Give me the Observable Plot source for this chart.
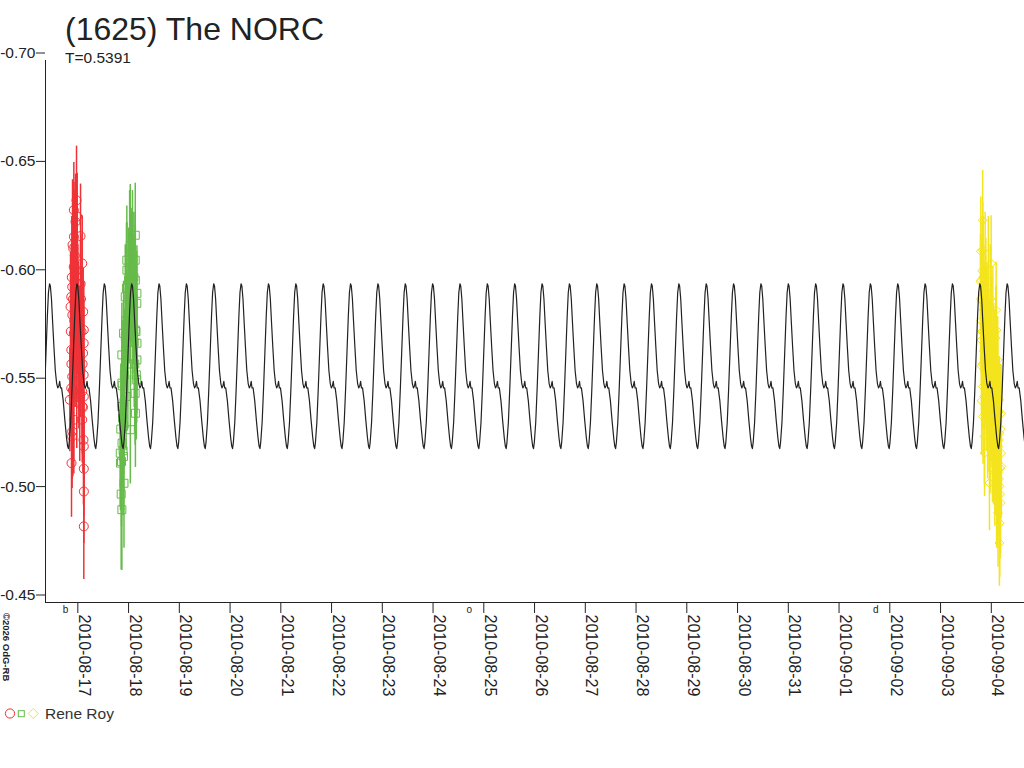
<!DOCTYPE html>
<html>
<head>
<meta charset="utf-8">
<script src="https://cdn.jsdelivr.net/npm/d3@7"></script>
<script src="https://cdn.jsdelivr.net/npm/@observablehq/plot@0.6"></script>
<style>
  body { margin: 0; background: #fff; }
  #wrap { position: relative; width: 1024px; height: 768px; overflow: hidden; background: #fff; font-family: "Liberation Sans", Arial, sans-serif; }
  #chart { position: absolute; left: 0; top: 0; }
  #overlay { position: absolute; left: 0; top: 0; pointer-events: none; }
</style>
</head>
<body>
<div id="wrap">
  <div id="chart"></div>
  <svg id="overlay" width="1024" height="768" font-family="Liberation Sans, Arial, sans-serif">
    <text x="65" y="40" font-size="32" fill="#222">(1625) The NORC</text>
    <text x="65" y="63" font-size="15.5" fill="#222">T=0.5391</text>
    <text transform="translate(2.5,613) rotate(90)" font-size="9.5" font-weight="bold" fill="#222">©2026 OdG-RB</text>
    <circle cx="10" cy="713.5" r="4.6" fill="none" stroke="#ee3338" stroke-width="1"/>
    <rect x="18.3" y="710.7" width="6" height="6" fill="none" stroke="#66bb4a" stroke-width="1"/>
    <path d="M33.3,708.5 L38.3,713.5 L33.3,718.5 L28.3,713.5 Z" fill="none" stroke="#f4e41e" stroke-width="1"/>
    <text x="45" y="718.5" font-size="15.5" fill="#333">Rene Roy</text>
  </svg>
</div>
<script>
// ---------- axis definitions ----------
const xDomain = ["2010-08-16T08:43Z", "2010-09-04T15:42Z"];
const yDomain = [-0.45, -0.70];
const yTicks = [-0.70, -0.65, -0.60, -0.55, -0.50, -0.45];
const xTickLabels = ["2010-08-17","2010-08-18","2010-08-19","2010-08-20","2010-08-21","2010-08-22",
  "2010-08-23","2010-08-24","2010-08-25","2010-08-26","2010-08-27","2010-08-28","2010-08-29",
  "2010-08-30","2010-08-31","2010-09-01","2010-09-02","2010-09-03","2010-09-04"];

// moon phases (first quarter, full, last quarter)
const moonTimes = ["2010-08-16T18:14Z", "2010-08-24T17:05Z", "2010-09-01T17:22Z"];
const moonGlyphs = ["b", "o", "d"];

// ---------- model light curve (one cycle) ----------
const modelEpoch = "2010-08-16T10:38Z";   // a maximum
const modelPeriod = 0.5391;               // days
const modelPhases = [0.00,0.03,0.07,0.11,0.16,0.21,0.26,0.30,0.34,0.37,0.40,0.44,0.50,0.56,0.62,0.66,0.69,0.72,0.77,0.82,0.87,0.92,0.96];
const modelMags   = [-0.597,-0.596,-0.590,-0.580,-0.568,-0.557,-0.551,-0.549,-0.550,-0.552,-0.549,-0.549,-0.543,-0.534,-0.526,-0.522,-0.521,-0.524,-0.533,-0.548,-0.565,-0.582,-0.593];

// ---------- observations: Rene Roy, three nights ----------
const redTimes = ["2010-08-16T23:23","2010-08-16T22:07","2010-08-16T23:43","2010-08-16T22:55","2010-08-16T22:10",
  "2010-08-17T01:17","2010-08-16T21:50","2010-08-17T02:05","2010-08-16T22:04","2010-08-16T21:21","2010-08-16T20:53",
  "2010-08-17T01:20","2010-08-16T20:33","2010-08-16T21:25","2010-08-17T02:33","2010-08-16T22:07","2010-08-17T02:50",
  "2010-08-16T20:55","2010-08-17T02:47","2010-08-16T22:10","2010-08-17T02:30","2010-08-17T01:17","2010-08-16T21:21",
  "2010-08-16T20:53","2010-08-17T02:05","2010-08-16T20:13","2010-08-17T02:50","2010-08-17T02:08","2010-08-16T22:07",
  "2010-08-17T02:05","2010-08-16T21:21","2010-08-16T21:18","2010-08-17T02:50","2010-08-16T21:01","2010-08-17T02:50",
  "2010-08-17T02:52","2010-08-17T02:50","2010-08-16T23:05","2010-08-16T23:50","2010-08-17T00:20","2010-08-17T00:45",
  "2010-08-16T23:30","2010-08-17T00:05","2010-08-16T21:40",
  "2010-08-16T20:40","2010-08-16T20:58","2010-08-16T21:10","2010-08-16T21:30","2010-08-16T21:45","2010-08-16T22:00",
  "2010-08-16T22:20","2010-08-16T22:35","2010-08-16T22:45","2010-08-16T23:10","2010-08-16T23:35","2010-08-17T00:00",
  "2010-08-17T00:30","2010-08-17T00:55","2010-08-17T01:30","2010-08-17T01:45","2010-08-17T02:15","2010-08-17T02:25",
  "2010-08-17T02:40","2010-08-17T02:45"];
const redMags = [-0.6355,-0.631,-0.628,-0.6256,-0.6187,-0.619,-0.6133,-0.6064,-0.6048,-0.5956,-0.591,
  -0.597,-0.5864,-0.5826,-0.5841,-0.5742,-0.5757,-0.5665,-0.5696,-0.5619,-0.565,-0.5573,-0.5542,
  -0.5488,-0.5473,-0.5435,-0.545,-0.5404,-0.5343,-0.5343,-0.5289,-0.5266,-0.522,-0.5143,-0.5117,
  -0.5012,-0.4851,-0.603,-0.588,-0.577,-0.566,-0.556,-0.572,-0.548,
  -0.575,-0.560,-0.600,-0.615,-0.590,-0.545,-0.580,-0.610,-0.570,-0.590,-0.600,-0.585,
  -0.560,-0.545,-0.590,-0.575,-0.560,-0.540,-0.525,-0.555];
const redErrs = [0.025,0.022,0.02,0.022,0.025,0.024,0.02,0.022,0.025,0.022,0.024,
  0.02,0.025,0.022,0.02,0.024,0.022,0.025,0.02,0.022,0.024,0.022,0.025,
  0.02,0.022,0.024,0.02,0.022,0.025,0.02,0.022,0.024,0.025,0.025,0.022,
  0.024,0.0245,0.03,0.03,0.03,0.03,0.035,0.03,0.04,
  0.03,0.03,0.028,0.03,0.03,0.03,0.03,0.03,0.03,0.03,0.03,0.03,
  0.03,0.03,0.03,0.028,0.03,0.03,0.03,0.03];

const greenTimes = ["2010-08-17T20:04","2010-08-17T20:10","2010-08-17T20:50","2010-08-17T20:52","2010-08-17T20:48",
  "2010-08-17T20:55","2010-08-17T20:50","2010-08-17T21:38","2010-08-17T21:40","2010-08-17T21:36","2010-08-17T22:26",
  "2010-08-17T22:28","2010-08-17T23:11","2010-08-17T23:13","2010-08-18T00:00","2010-08-18T00:48","2010-08-18T00:50",
  "2010-08-18T01:34","2010-08-18T03:10","2010-08-18T03:08","2010-08-18T03:12","2010-08-18T03:10","2010-08-18T03:06",
  "2010-08-18T03:14","2010-08-18T03:56","2010-08-18T03:54","2010-08-18T03:58","2010-08-18T03:56","2010-08-18T03:52",
  "2010-08-18T00:30","2010-08-18T01:50","2010-08-18T02:20","2010-08-18T01:00","2010-08-17T23:40","2010-08-17T22:50",
  "2010-08-17T21:10","2010-08-17T21:50","2010-08-17T20:30","2010-08-18T02:40",
  "2010-08-17T20:20","2010-08-17T21:00","2010-08-17T21:25","2010-08-17T22:00","2010-08-17T22:40","2010-08-17T23:00",
  "2010-08-17T23:25","2010-08-18T00:15","2010-08-18T01:15","2010-08-18T02:00","2010-08-18T02:30","2010-08-18T02:55",
  "2010-08-18T03:30","2010-08-18T03:40","2010-08-17T20:40"];
const greenMags = [-0.5189,-0.5143,-0.5642,-0.5512,-0.5404,-0.5235,-0.4928,-0.5742,-0.5312,-0.5174,-0.591,
  -0.5726,-0.6079,-0.6033,-0.5987,-0.6148,-0.5297,-0.6018,-0.6194,-0.6079,-0.5987,-0.5757,-0.5465,
  -0.5373,-0.5926,-0.588,-0.5696,-0.5619,-0.5527,-0.610,-0.605,-0.590,-0.575,-0.560,-0.545,
  -0.535,-0.505,-0.500,-0.570,
  -0.530,-0.550,-0.520,-0.555,-0.580,-0.595,-0.570,-0.590,-0.600,-0.585,-0.600,-0.560,
  -0.575,-0.555,-0.515];
const greenErrs = [0.025,0.022,0.024,0.022,0.025,0.02,0.028,0.024,0.022,0.025,0.024,
  0.022,0.025,0.022,0.024,0.028,0.025,0.03,0.024,0.022,0.025,0.022,0.024,
  0.025,0.022,0.024,0.022,0.025,0.02,0.03,0.035,0.03,0.025,0.03,0.025,
  0.03,0.03,0.035,0.03,
  0.03,0.03,0.03,0.03,0.03,0.03,0.03,0.03,0.03,0.03,0.03,0.03,
  0.03,0.03,0.03];

const yellowTimes = ["2010-09-03T18:50","2010-09-03T19:02","2010-09-03T19:10","2010-09-03T19:14","2010-09-03T19:18",
  "2010-09-03T19:22","2010-09-03T19:26","2010-09-03T19:30","2010-09-03T19:40","2010-09-03T19:55","2010-09-03T19:57",
  "2010-09-03T20:00","2010-09-03T20:05","2010-09-03T20:12","2010-09-03T20:20","2010-09-03T20:30","2010-09-03T20:44",
  "2010-09-03T20:48","2010-09-03T20:55","2010-09-03T21:05","2010-09-03T21:15","2010-09-03T21:25","2010-09-03T21:35",
  "2010-09-03T21:45","2010-09-03T21:55","2010-09-03T22:05","2010-09-03T22:15","2010-09-03T22:25","2010-09-03T22:35",
  "2010-09-03T22:45","2010-09-03T22:55","2010-09-03T23:07","2010-09-03T23:20","2010-09-03T23:30","2010-09-03T23:40",
  "2010-09-03T23:55","2010-09-04T00:10","2010-09-04T00:20","2010-09-04T00:35","2010-09-04T00:45","2010-09-04T01:00",
  "2010-09-04T01:10","2010-09-04T01:25","2010-09-04T01:40","2010-09-04T01:50","2010-09-04T02:05","2010-09-04T02:17",
  "2010-09-04T02:25","2010-09-04T02:35","2010-09-04T02:45","2010-09-04T02:55","2010-09-04T03:01","2010-09-04T03:05",
  "2010-09-04T03:10","2010-09-04T03:20","2010-09-04T03:30","2010-09-04T03:40","2010-09-04T03:45","2010-09-04T03:52",
  "2010-09-04T03:55","2010-09-04T04:00","2010-09-04T03:50","2010-09-04T04:15","2010-09-04T04:25","2010-09-04T04:38",
  "2010-09-04T04:40","2010-09-04T04:45",
  "2010-09-03T19:05","2010-09-03T19:35","2010-09-03T19:45","2010-09-03T20:08","2010-09-03T20:25","2010-09-03T20:35",
  "2010-09-03T21:00","2010-09-03T21:20","2010-09-03T21:30","2010-09-03T21:50","2010-09-03T22:00","2010-09-03T22:20",
  "2010-09-03T22:30","2010-09-03T22:50","2010-09-03T23:00","2010-09-03T23:15","2010-09-03T23:25","2010-09-03T23:50",
  "2010-09-04T00:00","2010-09-04T00:15","2010-09-04T00:30","2010-09-04T00:50","2010-09-04T01:05","2010-09-04T01:20",
  "2010-09-04T01:35","2010-09-04T02:00","2010-09-04T02:10","2010-09-04T02:30","2010-09-04T02:50","2010-09-04T03:15",
  "2010-09-04T03:35","2010-09-04T04:10","2010-09-04T04:30"];
const yellowMags = [-0.598,-0.612,-0.5987,-0.580,-0.571,-0.559,-0.543,-0.589,-0.603,-0.6263,-0.6125,
  -0.5496,-0.5358,-0.575,-0.592,-0.566,-0.5266,-0.5189,-0.583,-0.605,-0.556,-0.594,-0.540,
  -0.570,-0.586,-0.552,-0.532,-0.578,-0.598,-0.562,-0.545,-0.5051,-0.528,-0.573,-0.590,
  -0.6064,-0.555,-0.536,-0.518,-0.580,-0.547,-0.564,-0.524,-0.510,-0.541,-0.572,-0.5849,
  -0.5757,-0.531,-0.515,-0.500,-0.5619,-0.5542,-0.4913,-0.522,-0.538,-0.507,-0.5435,-0.5281,
  -0.5036,-0.4867,-0.4775,-0.512,-0.496,-0.5373,-0.5189,-0.5128,
  -0.590,-0.575,-0.560,-0.600,-0.585,-0.545,-0.570,-0.580,-0.560,-0.550,-0.575,-0.555,
  -0.540,-0.585,-0.560,-0.545,-0.530,-0.565,-0.545,-0.570,-0.530,-0.550,-0.525,-0.540,
  -0.555,-0.520,-0.535,-0.505,-0.545,-0.510,-0.525,-0.500,-0.530];
const yellowErrs = [0.022,0.025,0.02,0.024,0.02,0.022,0.025,0.02,0.024,0.023,0.022,
  0.02,0.022,0.025,0.02,0.024,0.022,0.02,0.024,0.025,0.022,0.024,0.02,
  0.025,0.02,0.022,0.025,0.02,0.03,0.02,0.024,0.022,0.025,0.02,0.025,
  0.022,0.02,0.024,0.022,0.025,0.02,0.024,0.022,0.025,0.02,0.024,0.022,
  0.02,0.025,0.022,0.024,0.02,0.022,0.025,0.02,0.024,0.022,0.02,0.022,
  0.024,0.025,0.02,0.02,0.024,0.022,0.02,0.024,
  0.03,0.03,0.03,0.028,0.03,0.03,0.03,0.03,0.03,0.03,0.03,0.03,
  0.03,0.03,0.03,0.03,0.03,0.03,0.03,0.03,0.03,0.03,0.03,0.03,
  0.03,0.03,0.03,0.03,0.03,0.03,0.03,0.03,0.03];

// ---------- colours ----------
const redColor = "#ee3338", greenColor = "#66bb4a", yellowColor = "#f4e41e", ink = "#222";

// ---------- build tables ----------
const parseT = s => new Date(s.endsWith("Z") ? s : s + "Z");
const series = (times, mags, errs) => times.map((t, i) => ({t: parseT(t), m: mags[i], e: errs[i]}));
const red = series(redTimes, redMags, redErrs);
const green = series(greenTimes, greenMags, greenErrs);
const yellow = series(yellowTimes, yellowMags, yellowErrs);

const epochMs = parseT(modelEpoch).getTime();
const modelPoints = [];
for (let k = -2; k <= 37; k++) {
  modelPhases.forEach((p, i) => {
    modelPoints.push({t: new Date(epochMs + (k + p) * modelPeriod * 864e5), m: modelMags[i]});
  });
}
const xTicks = xTickLabels.map(s => parseT(s + "T00:00"));
const moons = moonTimes.map((s, i) => ({t: parseT(s), g: moonGlyphs[i]}));

const errBars = (data, color) => Plot.ruleX(data, {x: "t", y1: d => d.m - d.e, y2: d => d.m + d.e, stroke: color, strokeWidth: 1.5});

const chart = Plot.plot({
  width: 1024,
  height: 768,
  marginTop: 60,
  marginBottom: 166,
  marginLeft: 45,
  marginRight: 0,
  style: {fontFamily: "Liberation Sans, Arial, sans-serif", background: "transparent", overflow: "visible"},
  x: {type: "utc", domain: xDomain.map(parseT)},
  y: {domain: yDomain},
  marks: [
    errBars(red, redColor),
    errBars(green, greenColor),
    errBars(yellow, yellowColor),
    Plot.dot(red, {x: "t", y: "m", r: 4.5, symbol: "circle", stroke: redColor, fill: "none", strokeWidth: 1}),
    Plot.dot(green, {x: "t", y: "m", r: 4.5, symbol: "square", stroke: greenColor, fill: "none", strokeWidth: 1}),
    Plot.dot(yellow, {x: "t", y: "m", r: 4, symbol: "diamond2", stroke: yellowColor, fill: "none", strokeWidth: 1}),
    Plot.line(modelPoints, {x: "t", y: "m", stroke: ink, strokeWidth: 1.2, clip: true}),
    Plot.ruleX([parseT(xDomain[0])], {stroke: ink}),
    Plot.ruleY([yDomain[0]], {stroke: ink}),
    Plot.axisY({ticks: yTicks, tickSize: 9, tickPadding: 1, tickFormat: d => d.toFixed(2), fontSize: 15.5, dy: -7.5, color: ink, label: null}),
    Plot.axisX({ticks: xTicks, tickSize: 11, tickFormat: () => "", color: ink, label: null}),
    Plot.text(xTicks, {x: d => d, text: (d, i) => xTickLabels[i], frameAnchor: "bottom", rotate: 90, textAnchor: "start", lineAnchor: "bottom", dx: 1, dy: 12, fontSize: 16, fill: ink}),
    Plot.text(moons, {x: "t", text: "g", frameAnchor: "bottom", lineAnchor: "bottom", dy: 10, fontSize: 10, fill: ink})
  ]
});
document.getElementById("chart").appendChild(chart);
</script>
</body>
</html>
